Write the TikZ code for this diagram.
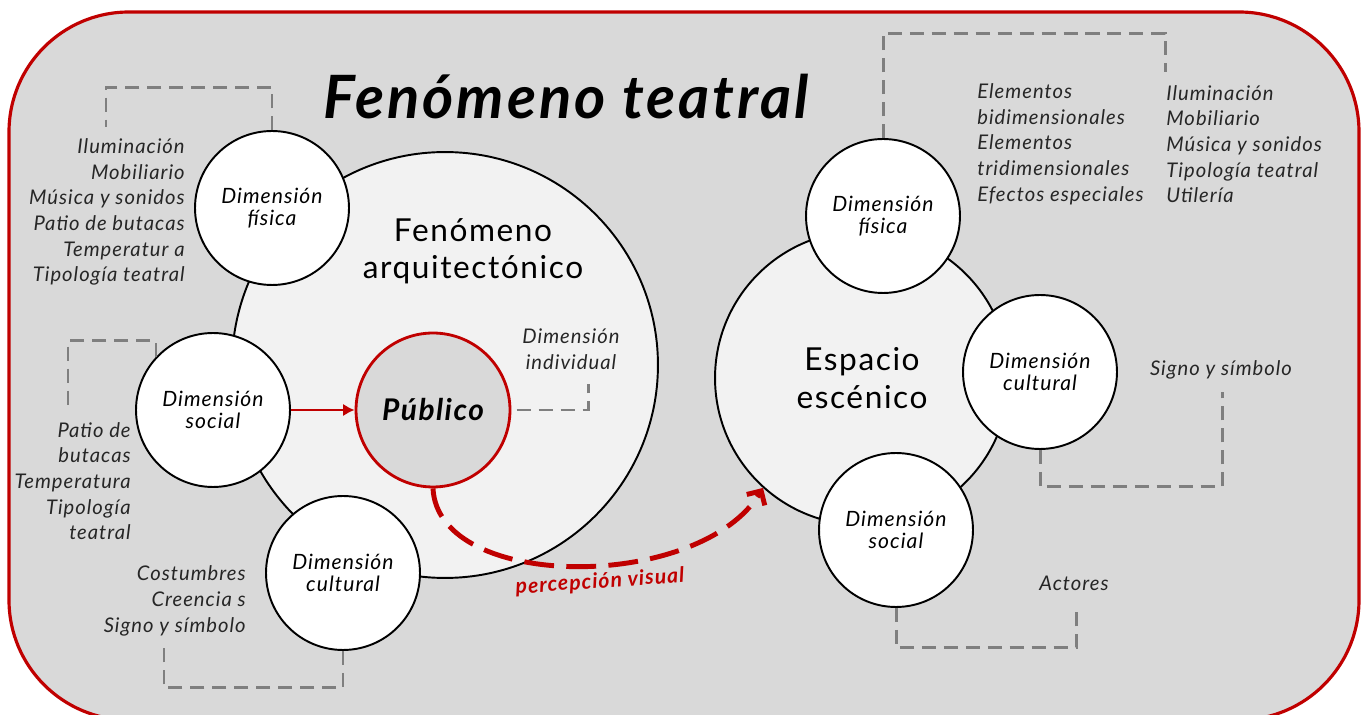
\documentclass[tikz,border=0pt]{standalone}
\usepackage{fontspec}
\setmainfont{Lato}[LetterSpace=5]
\usepackage{xcolor}
\usetikzlibrary{arrows.meta,positioning,calc}
\definecolor{teatroRed}{RGB}{192,0,0}
\definecolor{teatroGray}{RGB}{217,217,217}
\definecolor{teatroLight}{RGB}{242,242,242}
\definecolor{teatroDash}{RGB}{127,127,127}
\colorlet{darktext}{black!85}

\begin{document}
\begin{tikzpicture}[x=0.02cm,y=-0.02cm,>=Latex,
  dim/.style={draw,circle,line width=1.1pt,fill=white,minimum size=3.08cm,inner sep=0pt,align=center,font=\fontsize{12}{12.6}\selectfont\itshape},
  big/.style={draw,circle,line width=1.1pt,fill=teatroLight,inner sep=0pt},
  items/.style={align=right,text=darktext,inner sep=0pt,font=\fontsize{11.5}{14.6}\selectfont\itshape},
  bracket/.style={draw=teatroDash,line width=1.7pt,dash pattern=on 8pt off 4.5pt}]
\useasboundingbox (0,0) rectangle (1366,715);
\draw[teatroRed,fill=teatroGray,line width=1.8pt,rounded corners=2.4cm] (9,12) rectangle (1359,720);

% big circles
\node[big,minimum size=8.52cm] (arq) at (445,365) {};
\node[big,minimum size=5.88cm,font=\fontsize{18}{21.5}\selectfont,align=center] (esp) at (862,378) {Espacio\\escénico};
\node[align=center,font=\fontsize{18}{21}\selectfont] (arqtext) at (473,251) {Fenómeno\\arquitectónico};
\node[font=\fontsize{34}{40}\selectfont\bfseries\itshape] (titulo) at (566,97) {Fenómeno teatral};

% left dimensions
\node[dim] (fisL) at (272,208) {Dimensión\\física};
\node[dim] (socL) at (213,410) {Dimensión\\social};
\node[dim] (culL) at (343,573) {Dimensión\\cultural};
\node[dim,draw=teatroRed,line width=1.6pt,fill=teatroGray,font=\fontsize{17}{20}\selectfont\bfseries\itshape] (pub) at (433,410) {Público};

% right dimensions
\node[dim] (fisR) at (883,216) {Dimensión\\física};
\node[dim] (culR) at (1040,372) {Dimensión\\cultural};
\node[dim] (socR) at (896,530) {Dimensión\\social};

% item lists
\node[items,anchor=east] (listFisL) at (185,212) {Iluminación\\Mobiliario\\Música y sonidos\\Patio de butacas\\Temperatur a\\Tipología teatral};
\node[items,anchor=east] (listSocL) at (131,481) {Patio de\\butacas\\Temperatura\\Tipología\\teatral};
\node[items,anchor=east] (listCulL) at (246,601) {Costumbres\\Creencia s\\Signo y símbolo};
\node[items,align=center] (indiv) at (571,349) {Dimensión\\individual};
\node[items,align=left,anchor=west] (listFisR1) at (977,144) {Elementos\\bidimensionales\\Elementos\\tridimensionales\\Efectos especiales};
\node[items,align=left,anchor=west] (listFisR2) at (1166,144) {Iluminación\\Mobiliario\\Música y sonidos\\Tipología teatral\\Utilería};
\node[items] (listCulR) at (1221,370) {Signo y símbolo};
\node[items] (listSocR) at (1074,583) {Actores};

% bracket ends
\coordinate (fisLend) at (106,127);
\coordinate (socLend) at (68,408);
\coordinate (culLend) at (164,648);
\coordinate (indend) at (588,384);
\coordinate (fisRend) at (1165,72);
\coordinate (culRend) at (1222,392);
\coordinate (socRend) at (1076,605);

\draw[bracket] (fisL.north) -- ++(0,-43) -| (fisLend);
\draw[bracket] (socL.137) -- ++(0,-16) -| (socLend);
\draw[bracket] (culL.south) -- ++(0,37) -| (culLend);
\draw[bracket,shorten <=3pt] (pub.east) -| (indend);
\draw[bracket] (fisR.north) -- ++(0,-105) -| (fisRend);
\draw[bracket] (culR.south) -- ++(0,37) -| (culRend);
\draw[bracket] (socR.south) -- ++(0,40) -| (socRend);

% connectors
\draw[-{Latex[length=6.5pt,width=7pt]},teatroRed,line width=1.2pt] (socL) -- (pub);
\draw[teatroRed,line width=2.8pt,dash pattern=on 17pt off 7pt,-{Straight Barb[length=6pt,width=12pt]}] (pub.south) .. controls (438,592) and (700,592) .. (esp.228);
\node[teatroRed,rotate=4,font=\fontsize{12}{14}\selectfont\bfseries\itshape] (perc) at (600,582) {percepción visual};
\end{tikzpicture}
\end{document}
